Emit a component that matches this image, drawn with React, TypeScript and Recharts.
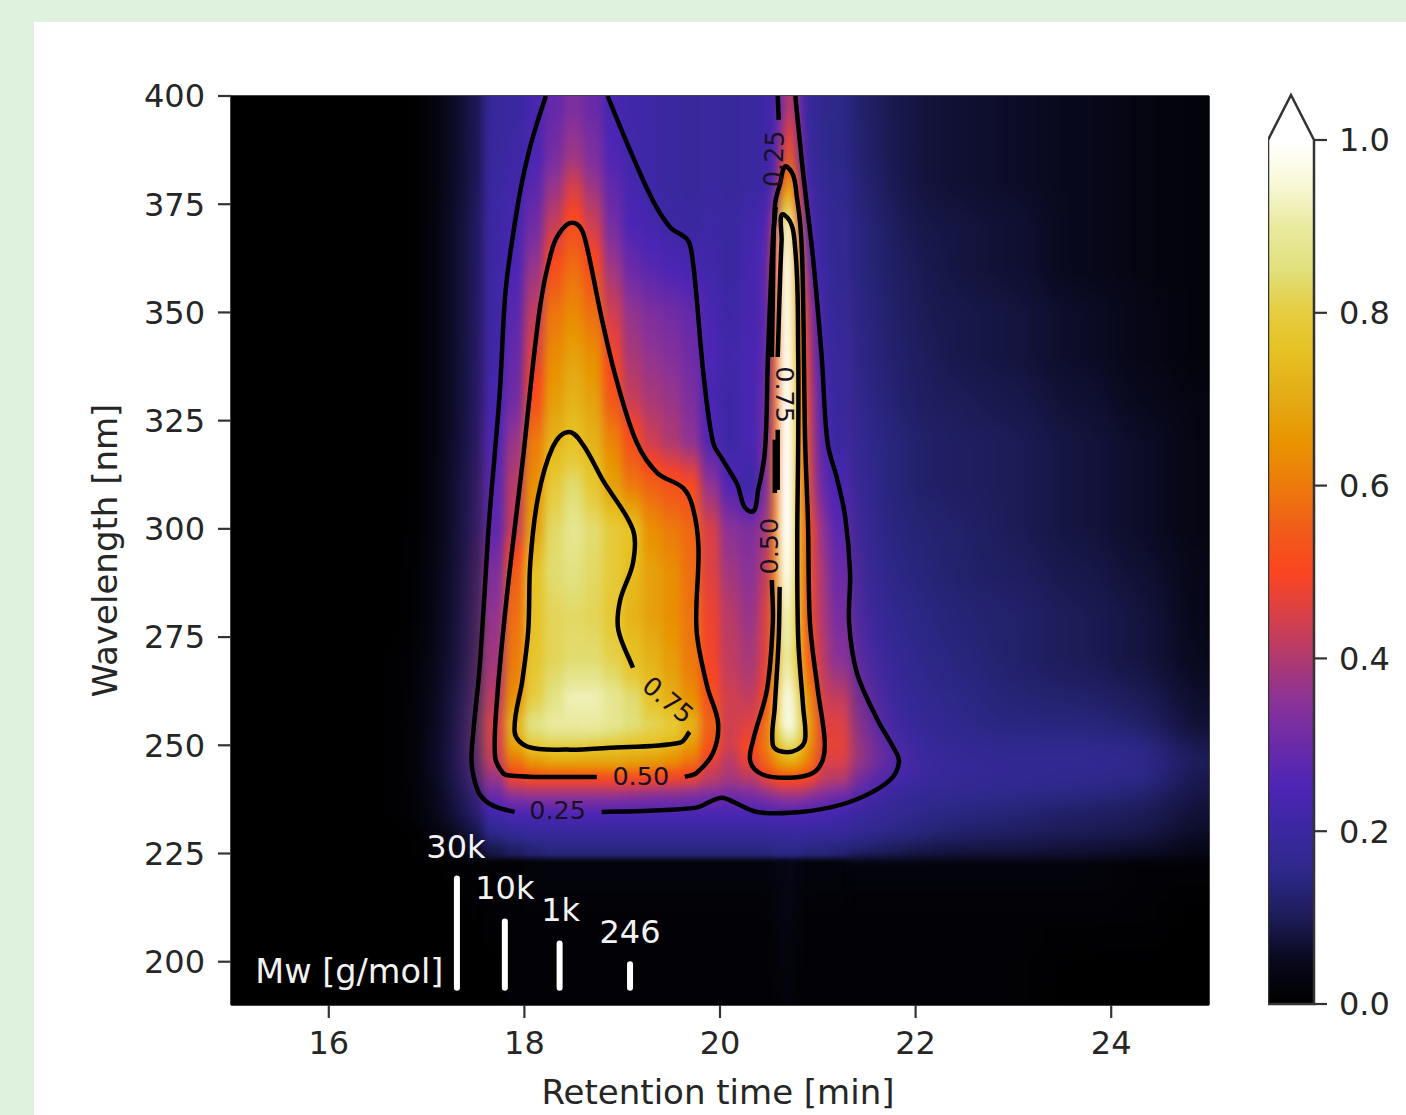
import React from "react";
import {
  Bar,
  BarChart,
  ComposedChart,
  ReferenceArea,
  ReferenceDot,
  ReferenceLine,
  Scatter,
  XAxis,
  YAxis,
} from "recharts";

const FONT = "'DejaVu Sans', sans-serif";
const TEXT = "#262626";

// cell edges of the heat map
const timeEdges = [
  15, 16.2, 16.7, 17, 17.3, 17.6, 17.8, 18, 18.2, 18.4, 18.6, 18.8, 19, 19.2, 19.4, 19.6, 19.8, 20,
  20.2, 20.4, 20.52, 20.6, 20.68, 20.76, 20.84, 20.92, 21, 21.12, 21.3, 21.5, 21.8, 22.2, 22.7, 23.3,
  24, 24.6, 25,
];
const waveEdges = [
  400, 385, 375, 365, 355, 345, 335, 325, 315, 305, 295, 285, 275, 265, 258, 252, 248, 244, 240, 236,
  232, 228, 224, 215, 205, 190,
];

// intensity in percent, one row per wavelength band, top to bottom
const intensity = [
  [0,0,0,2,8, 19,20,23,29,33,30,24,22,21,20,19,20,19,20, 21,23,33,44,32,20,18,16, 15,13,10,8,7,6,5,3,2],
  [0,0,0,2,8, 20,22,27,36,44,37,28,23,21,20,19,20,19,20, 21,27,55,70,45,24,20,18, 16,14,11,8,7,6,5,3,2],
  [0,0,0,2,9, 21,23,31,43,52,44,32,25,23,21,20,21,20,22, 25,42,88,95,62,30,22,19, 17,15,12,9,8,7,5,3,2],
  [0,0,0,2,9, 21,25,37,52,58,52,38,30,27,25,24,22,20,23, 27,52,95,98,68,38,25,20, 17,15,12,10,8,7,5,3,2],
  [0,0,0,2,9, 21,27,42,59,63,58,44,36,33,31,29,24,21,23, 27,54,96,98,70,46,30,21, 18,15,13,10,9,8,6,4,2],
  [0,0,0,2,9, 22,29,46,63,68,64,49,39,36,34,31,25,22,24, 28,56,97,99,72,50,33,22, 19,16,13,11,9,8,6,4,2],
  [0,0,0,2,9, 23,31,52,67,72,68,54,43,39,37,33,24,21,24, 30,57,98,100,73,52,36,24, 19,17,14,11,10,9,7,5,3],
  [0,0,0,2,9, 25,37,60,72,76,72,62,52,44,40,36,26,21,24, 32,58,99,100,74,54,38,26, 20,17,15,12,11,10,8,6,3],
  [0,0,0,2,10, 27,41,64,79,84,78,68,60,56,53,51,36,26,21, 32,60,100,100,75,55,40,29, 24,18,15,12,11,10,8,6,3],
  [0,0,0,2,10, 28,43,68,83,88,84,79,76,64,60,57,45,35,33, 38,62,100,100,76,56,46,35, 27,19,15,13,12,10,8,6,3],
  [0,0,0,3,10, 33,55,76,84,86,83,79,74,68,64,58,46,38,35, 42,62,97,97,75,56,46,38, 30,20,16,14,12,11,9,7,4],
  [0,0,0,3,11, 36,58,76,82,83,82,78,72,68,64,59,48,41,37, 45,62,92,92,76,56,47,39, 32,23,17,15,13,12,10,8,4],
  [0,0,1,3,12, 38,60,77,82,84,84,81,76,72,67,60,49,42,39, 46,64,90,90,77,58,50,41, 35,27,19,16,14,12,10,8,5],
  [0,0,1,4,14, 41,64,80,86,92,92,88,84,76,71,64,52,44,42, 50,72,94,97,84,68,58,44, 42,31,21,17,15,13,12,10,6],
  [0,0,1,4,16, 45,72,86,90,90,90,88,85,82,79,72,56,44,46, 58,76,94,98,88,72,62,46, 46,35,24,18,16,14,14,12,7],
  [0,0,1,5,17, 44,68,79,80,80,79,78,76,75,72,66,53,44,50, 60,72,80,85,80,68,60,47, 47,38,27,20,17,16,16,15,9],
  [0,0,1,5,17, 42,58,65,68,68,68,68,67,66,63,58,46,41,47, 56,63,68,70,68,62,56,45, 45,38,28,21,18,17,17,16,10],
  [0,0,1,4,15, 36,47,49,49,49,49,49,49,48,47,46,41,38,40, 45,49,50,50,50,49,46,42, 40,30,25,20,18,17,16,15,9],
  [0,0,1,3,13, 29,34,35,35,35,35,35,34,33,33,32,31,30,31, 33,35,36,36,36,35,33,32, 30,25,20,17,16,15,14,12,8],
  [0,0,1,3,11, 22,24,24,24,25,25,24,24,24,24,24,24,24,24, 24,25,25,25,25,24,24,24, 22,20,18,16,14,13,11,10,7],
  [0,0,0,2,7, 16,18,19,19,19,19,19,19,19,19,19,19,19,19, 19,20,20,20,20,20,19,19, 19,18,16,14,12,11,10,9,6],
  [0,0,0,1,4, 9,11,13,14,14,14,14,14,14,14,14,14,14,14, 14,15,15,15,15,14,14,14, 13,12,11,9,8,8,7,6,4],
  [0,0,0,0,1, 1,1,2,2,2,2,2,2,2,2,2,2,2,2, 2,3,3,4,3,2,2,2, 2,2,2,2,2,2,2,1,1],
  [0,0,0,0,0, 1,1,1,1,1,1,1,1,1,1,1,1,1,1, 1,2,3,3,2,1,1,1, 1,1,1,1,1,1,1,1,0],
  [0,0,0,0,0, 0,1,1,1,1,1,1,1,1,1,1,1,1,1, 1,1,2,2,1,1,1,1, 1,1,1,1,1,1,0,0,0],
];

const cmapStops = [0, 0.05, 0.1, 0.15, 0.2, 0.25, 0.3, 0.35, 0.4, 0.45, 0.5, 0.55, 0.6, 0.65, 0.7, 0.75, 0.8, 0.85, 0.9, 0.95, 1];
const cmapColors = [
  "#000000", "#08081c", "#1c1c58", "#2c2888", "#3a28a0", "#4c25b5", "#6a2aa8", "#8a3298", "#b03a70",
  "#d84048", "#fb4520", "#f05c18", "#ed7a0c", "#e89400", "#e4aa14", "#e6c020", "#e6cc40", "#e0e07c",
  "#eaeaa0", "#f8f8d8", "#ffffff",
];

// contour pieces: [retention time, wavelength]; gaps are where the inline labels sit
const level25Left = [[18.22,400],[18.13,393.8],[18.05,387.5],[17.96,378.3],[17.85,362.8],[17.8,352.9],[17.75,332.1],[17.7,318.2],[17.64,302.1],[17.59,284.3],[17.54,267.4],[17.48,253.6],[17.46,246],[17.52,239.7],[17.61,237],[17.73,235.6],[17.9,234.6]];
const level25Base = [[18.79,234.6],[19.28,234.9],[19.76,235.6],[19.9,237],[20.02,237.9],[20.13,237],[20.38,234.6],[20.72,234.4],[21.12,235.6],[21.46,238.1],[21.74,242],[21.83,246.2],[21.77,249.6],[21.61,255.9],[21.4,266.7],[21.32,278.3],[21.33,289.8],[21.28,302.8],[21.2,311.3],[21.1,319.9],[21.04,339.7],[20.95,362.8],[20.85,382.2],[20.77,400]];
const level25Valley = [[18.85,400],[19.08,387.5],[19.31,376],[19.49,369.7],[19.67,366.7],[19.72,362.1],[19.76,353.6],[19.83,336],[19.93,319.9],[20.03,315.9],[20.17,310.6],[20.31,304],[20.39,309],[20.46,318.2],[20.49,339.7],[20.54,366.7],[20.57,374.4]];
const level25Top = [[20.6,394.5],[20.59,400]];
const level50Main = [[18.74,242.7],[18.09,242.7],[17.85,243],[17.78,243.6],[17.7,247.3],[17.72,260.5],[17.82,284.3],[17.98,315.2],[18.16,351.3],[18.29,365.1],[18.39,369.3],[18.49,370.7],[18.58,369.3],[18.64,365.1],[18.8,347.6],[18.95,333.7],[19.15,319.9],[19.36,312.9],[19.62,309.5],[19.72,305.1],[19.78,295.8],[19.76,276.7],[19.87,263.5],[19.98,255.2],[19.93,248.3],[19.76,243.6],[19.64,242.7]];
const level75Main = [[19.69,253.1],[19.59,250.6],[18.84,249.4],[18.44,249],[18.03,249.7],[17.9,253.1],[17.98,265.1],[18.04,276.7],[18.06,292.1],[18.14,307.4],[18.29,318.9],[18.45,322.4],[18.6,319.4],[18.8,311.3],[19.11,299.8],[19.11,292.1],[18.98,283.6],[18.96,276.7],[19.11,267.9]];
const level50Peak = [[20.53,288.2],[20.54,278.3],[20.48,262.8],[20.34,251.3],[20.31,246.2],[20.44,243.2],[20.72,242.5],[20.95,243.6],[21.05,246.6],[21.07,251.3],[21,262.8],[20.92,278.3],[20.9,301.4],[20.87,320.6],[20.84,362.8],[20.79,376],[20.69,383.6],[20.61,379.4],[20.56,374.4],[20.54,352.9],[20.53,339.7]];
const level50PeakStub = [[20.56,320.6],[20.56,308.3]];
const level75Peak = [[20.61,286.6],[20.6,274.4],[20.56,258.9],[20.54,250.1],[20.64,248.5],[20.79,249],[20.87,251.3],[20.85,258.9],[20.8,274.4],[20.79,297.5],[20.8,320.6],[20.8,339.7],[20.77,364.4],[20.66,372.5],[20.63,366.7],[20.59,339.7]];
const level75PeakStub = [[20.59,322.9],[20.59,309]];
const contourPieces = [
  level25Left, level25Base, level25Valley, level25Top, level50Main, level75Main,
  level50Peak, level50PeakStub, level75Peak, level75PeakStub,
];

// text, time, wavelength, angle
const contourLabels: [string, number, number, number][] = [
  ["0.25", 18.34, 235, 0],
  ["0.50", 19.19, 243, 0],
  ["0.75", 19.47, 260.5, 40],
  ["0.25", 20.55, 385.5, -88],
  ["0.50", 20.5, 296, -90],
  ["0.75", 20.66, 331, 90],
];

const mwNames = ["30k", "10k", "1k", "246"];
const mwTimes = [17.31, 17.8, 18.36, 19.08];
const mwTops = [219.2, 209.3, 204.2, 199.4];
const mwBase = 194;
const mwLabelTimes = [17.3, 17.8, 18.37, 19.08];
const mwLabelWaves = [226.6, 217.2, 212, 207];

const timeTicks = [16, 18, 20, 22, 24];
const waveTicks = [200, 225, 250, 275, 300, 325, 350, 375, 400];
const colorTicks = [0, 0.2, 0.4, 0.6, 0.8, 1];

const PLOT_LEFT = 231;
const PLOT_TOP = 96;
const PLOT_W = 978;
const PLOT_H = 909;
const PX_PER_MIN = PLOT_W / 10;
const PX_PER_NM = PLOT_H / 210;
const SHARP_EDGE = 224; // the detector cut-off stays a hard step

const colorOf = (v: number) => {
  let i = 0;
  while (i < cmapStops.length - 2 && v > cmapStops[i + 1]) i++;
  const t = Math.min(1, (v - cmapStops[i]) / (cmapStops[i + 1] - cmapStops[i]));
  const a = parseInt(cmapColors[i].slice(1), 16);
  const b = parseInt(cmapColors[i + 1].slice(1), 16);
  const mix = (s: number) => Math.round(((a >> s) & 255) * (1 - t) + ((b >> s) & 255) * t);
  return `rgb(${mix(16)},${mix(8)},${mix(0)})`;
};

// d3-style curve: tangents follow the neighbours, handles follow the segment length,
// so unevenly spaced contour points do not overshoot
const contourCurve = (ctx: any) => {
  let pts: number[][] = [];
  const dir = (a: number[], b: number[]) => {
    const dx = b[0] - a[0];
    const dy = b[1] - a[1];
    const len = Math.hypot(dx, dy) || 1;
    return [dx / len, dy / len];
  };
  return {
    areaStart() {},
    areaEnd() {},
    lineStart() {
      pts = [];
    },
    point(x: number, y: number) {
      pts.push([x, y]);
    },
    lineEnd() {
      if (!pts.length) return;
      ctx.moveTo(pts[0][0], pts[0][1]);
      for (let i = 0; i < pts.length - 1; i++) {
        const p = pts[i];
        const q = pts[i + 1];
        const d0 = dir(pts[Math.max(0, i - 1)], q);
        const d1 = dir(p, pts[Math.min(pts.length - 1, i + 2)]);
        const k = Math.hypot(q[0] - p[0], q[1] - p[1]) / 3;
        ctx.bezierCurveTo(p[0] + d0[0] * k, p[1] + d0[1] * k, q[0] - d1[0] * k, q[1] - d1[1] * k, q[0], q[1]);
      }
    },
  };
};

const cells = intensity.flatMap((row, r) =>
  row.map((pct, c) => {
    const above = r > 0 && waveEdges[r] !== SHARP_EDGE ? intensity[r - 1][c] : pct;
    const below = r < intensity.length - 1 && waveEdges[r + 1] !== SHARP_EDGE ? intensity[r + 1][c] : pct;
    return {
      id: `cell-${r}-${c}`,
      x: (timeEdges[c] + timeEdges[c + 1]) / 2,
      y: (waveEdges[r] + waveEdges[r + 1]) / 2,
      w: timeEdges[c + 1] - timeEdges[c],
      h: waveEdges[r] - waveEdges[r + 1],
      value: pct / 100,
      topValue: (pct + above) / 200,
      bottomValue: (pct + below) / 200,
      edgeL: c === 0,
      edgeR: c === row.length - 1,
      edgeT: r === 0,
      edgeB: r === intensity.length - 1,
    };
  }),
);
const coreCells = cells.filter((d) => d.x > 17.6 && d.x < 21.3);

const HeatCell = (props: any) => {
  const d = props.payload;
  const w = d.w * PX_PER_MIN;
  const h = d.h * PX_PER_NM;
  // outer cells run past the plot so the smoothing does not fade at the frame
  const left = props.cx - w / 2 - (d.edgeL ? 60 : 0);
  const top = props.cy - h / 2 - (d.edgeT ? 40 : 0);
  const width = w + (d.edgeL ? 60 : 0) + (d.edgeR ? 60 : 0) + 0.6;
  const height = h + (d.edgeT ? 40 : 0) + (d.edgeB ? 40 : 0) + 0.6;
  const mid = (a: number, b: number) => colorOf((a + b) / 2);
  return (
    <g>
      <linearGradient id={d.id} x1="0" y1="0" x2="0" y2="1">
        <stop offset="0" stopColor={colorOf(d.topValue)} />
        <stop offset="0.25" stopColor={mid(d.topValue, d.value)} />
        <stop offset="0.5" stopColor={colorOf(d.value)} />
        <stop offset="0.75" stopColor={mid(d.bottomValue, d.value)} />
        <stop offset="1" stopColor={colorOf(d.bottomValue)} />
      </linearGradient>
      <rect x={left} y={top} width={width} height={height} fill={`url(#${d.id})`} />
    </g>
  );
};

const ColorbarShape = (props: any) => {
  const { x, y, width, height } = props;
  return (
    <g>
      <path d={`M${x},${y} L${x + width / 2},${y - 45} L${x + width},${y} Z`} fill="#ffffff" />
      <rect x={x} y={y} width={width} height={height} fill="url(#cmap)" />
      <path
        d={`M${x},${y + height} L${x},${y} L${x + width / 2},${y - 45} L${x + width},${y} L${x + width},${y + height} Z`}
        fill="none"
        stroke="#333"
        strokeWidth={2.5}
      />
    </g>
  );
};

const tickStyle = { fontSize: 32, fill: TEXT, fontFamily: FONT };
const tickLine = { stroke: "#333", strokeWidth: 2.2 };
const NoPoint = () => null;

const App = () => {
  return (
    <div style={{ position: "absolute", left: 0, top: 0, width: 1406, height: 1115, background: "#dff2dd", overflow: "hidden" }}>
      <style>{`.heat-wide{filter:url(#wideBlur)} .heat-core{filter:url(#coreBlur)}`}</style>
      <div style={{ position: "absolute", left: 34, top: 22, right: 0, bottom: 0, background: "#ffffff" }} />
      <div style={{ position: "absolute", left: 0, top: 0 }}>
        <ComposedChart
          width={1406}
          height={1115}
          margin={{ top: PLOT_TOP, right: 1406 - PLOT_LEFT - PLOT_W, bottom: 0, left: 0 }}
        >
          <defs>
            <filter id="wideBlur" x="-10%" y="-10%" width="120%" height="120%" colorInterpolationFilters="sRGB">
              <feGaussianBlur stdDeviation="20 5" />
            </filter>
            <filter id="coreBlur" x="-10%" y="-10%" width="120%" height="120%" colorInterpolationFilters="sRGB">
              <feGaussianBlur stdDeviation="4 2.5" />
            </filter>
          </defs>
          <XAxis
            dataKey="x"
            type="number"
            domain={[15, 25]}
            ticks={timeTicks}
            allowDataOverflow
            height={110}
            tickSize={13}
            tickMargin={13}
            tick={tickStyle}
            tickLine={tickLine}
            axisLine={{ stroke: "#444", strokeWidth: 2 }}
            label={{ value: "Retention time [min]", position: "insideBottom", offset: 11, dx: -2, fontSize: 34, fill: TEXT, fontFamily: FONT }}
          />
          <YAxis
            dataKey="y"
            type="number"
            domain={[190, 400]}
            ticks={waveTicks}
            allowDataOverflow
            width={PLOT_LEFT}
            tickSize={13}
            tickMargin={13}
            tick={tickStyle}
            tickLine={tickLine}
            axisLine={{ stroke: "#444", strokeWidth: 2 }}
            label={{
              value: "Wavelength [nm]",
              angle: -90,
              position: "insideLeft",
              offset: 105,
              fontSize: 34,
              fill: TEXT,
              fontFamily: FONT,
              style: { textAnchor: "middle" },
            }}
          />
          <ReferenceArea x1={15} x2={25} y1={190} y2={400} fill="#000000" fillOpacity={1} stroke="none" />
          <Scatter className="heat-wide" data={cells} shape={HeatCell} isAnimationActive={false} legendType="none" />
          <Scatter className="heat-core" data={coreCells} shape={HeatCell} isAnimationActive={false} legendType="none" />
          <ReferenceLine x={25} stroke="#444" strokeWidth={2} />
          <ReferenceLine y={400} stroke="#444" strokeWidth={2} />
          {contourPieces.map((piece, i) => (
            <Scatter
              key={`contour-${i}`}
              data={piece.map(([x, y]) => ({ x, y }))}
              shape={NoPoint}
              line={{ stroke: "#000000", strokeWidth: 4.5, strokeLinejoin: "round", fill: "none" }}
              lineJointType={contourCurve as any}
              isAnimationActive={false}
              legendType="none"
            />
          ))}
          {mwTimes.map((t, i) => (
            <Scatter
              key={`mw-${i}`}
              data={[{ x: t, y: mwBase }, { x: t, y: mwTops[i] }]}
              shape={NoPoint}
              line={{ stroke: "#ffffff", strokeWidth: 6, strokeLinecap: "round", fill: "none" }}
              isAnimationActive={false}
              legendType="none"
            />
          ))}
          {contourLabels.map(([text, x, y, angle], i) => (
            <ReferenceDot
              key={`cl-${i}`}
              x={x}
              y={y}
              r={0}
              stroke="none"
              fill="none"
              label={{ value: text, position: "center", angle, fontSize: 25.5, fill: "#1a1026", fontFamily: FONT }}
            />
          ))}
          {mwNames.map((name, i) => (
            <ReferenceDot
              key={`mwl-${i}`}
              x={mwLabelTimes[i]}
              y={mwLabelWaves[i]}
              r={0}
              stroke="none"
              fill="none"
              label={{ value: name, position: "center", fontSize: 32, fill: "#f2f2f2", fontFamily: FONT }}
            />
          ))}
          <ReferenceDot
            x={16.21}
            y={197.8}
            r={0}
            stroke="none"
            fill="none"
            label={{ value: "Mw [g/mol]", position: "center", fontSize: 33.5, fill: "#f2f2f2", fontFamily: FONT }}
          />
        </ComposedChart>
      </div>
      <div style={{ position: "absolute", left: 1268, top: 0 }}>
        <BarChart width={138} height={1115} data={[{ name: "scale", top: 1 }]} margin={{ top: 140, right: 0, bottom: 111, left: 0 }} barCategoryGap={0}>
          <defs>
            <linearGradient id="cmap" x1="0" y1="1" x2="0" y2="0">
              {cmapStops.map((s, i) => (
                <stop key={s} offset={s} stopColor={cmapColors[i]} />
              ))}
            </linearGradient>
          </defs>
          <XAxis dataKey="name" hide />
          <YAxis
            orientation="right"
            type="number"
            domain={[0, 1]}
            ticks={colorTicks}
            width={92}
            tickSize={13}
            tickMargin={12}
            tick={tickStyle}
            tickLine={tickLine}
            axisLine={false}
            tickFormatter={(v: number) => v.toFixed(1)}
          />
          <Bar dataKey="top" shape={ColorbarShape} isAnimationActive={false} legendType="none" />
        </BarChart>
      </div>
    </div>
  );
};

export default App;
